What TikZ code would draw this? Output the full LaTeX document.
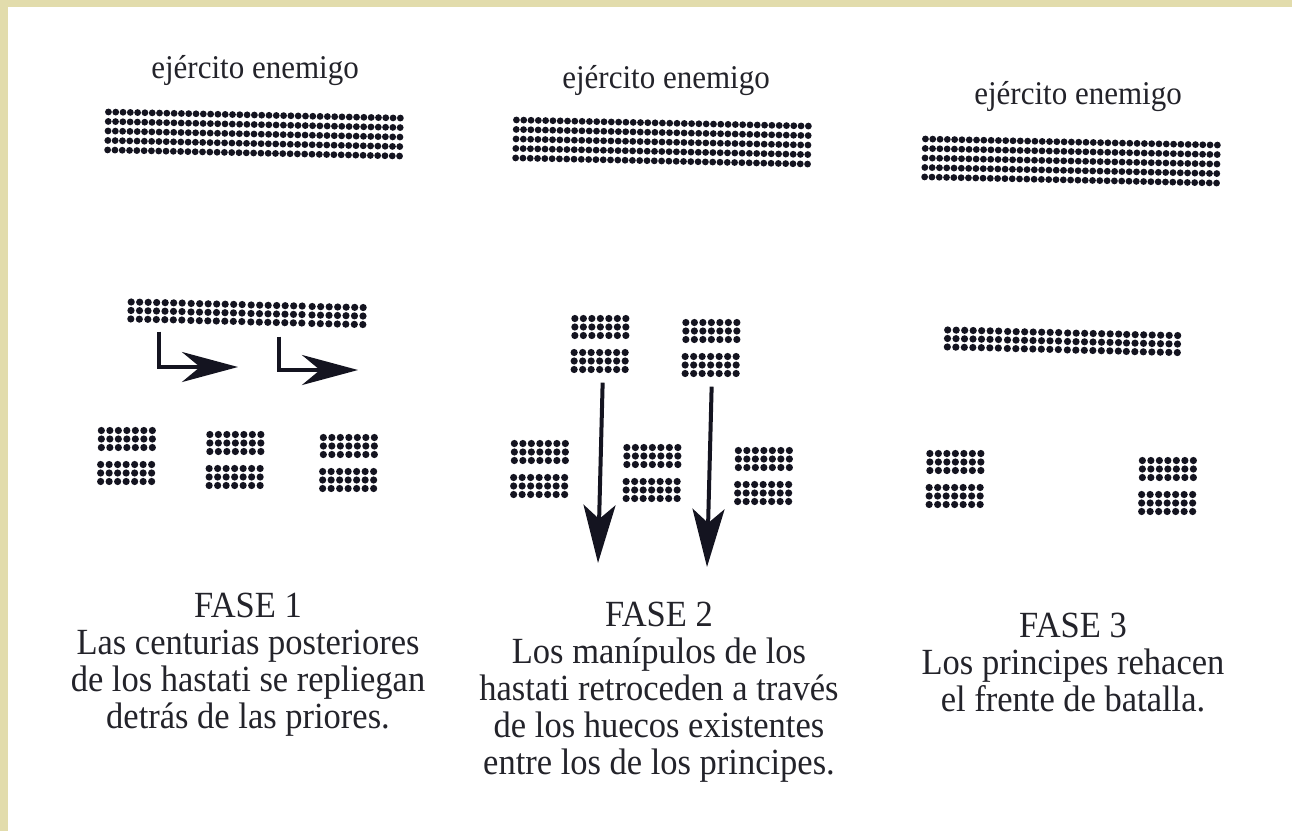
\documentclass[tikz,border=0pt]{standalone}
\usepackage{fontspec}
\setmainfont{Liberation Serif}
\usetikzlibrary{arrows.meta}
\definecolor{parch}{RGB}{226,220,172}
\definecolor{ink}{RGB}{20,20,32}
\definecolor{txt}{RGB}{35,35,42}
\tikzset{
  cent/.pic={
    \node[inner sep=0pt, minimum width=57pt, minimum height=23pt] (-box) {};
    \foreach \i in {0,...,6}{\foreach \j in {0,...,2}{\fill[ink] (-25.5+8.5*\i,-8.5+8.5*\j) circle (3.6pt);}}
  },
  manip/.pic={
    \pic (-top) at (0,-17) {cent};
    \pic (-bot) at (0,17) {cent};
  },
  enemy/.pic={
    \node[inner sep=0pt, minimum width=298pt, minimum height=44pt] (-box) {};
    \foreach \i in {0,...,40}{\foreach \j in {0,...,4}{\fill[ink] (-146+7.3*\i,-19+9.5*\j) circle (3.4pt);}}
  },
  lbl/.style={font=\fontsize{31}{36}\selectfont, text=txt, inner sep=0pt, anchor=base, yscale=1.07},
  captxt/.style={font=\fontsize{34.5}{34.5}\selectfont, text=txt, inner sep=0pt, anchor=north, align=center, yscale=1.07},
  arrL/.style={line width=4pt, draw=ink, -{Stealth[length=56pt,width=30pt,inset=18pt]}},
  arrD/.style={line width=4pt, draw=ink, -{Stealth[length=58pt,width=32pt,inset=14pt]}},
  tilt/.style={rotate=-1.2}
}
\begin{document}
\begin{tikzpicture}[x=1pt,y=-1pt]
\fill[parch] (0,0) rectangle (1292,831);
\fill[white] (8,7) rectangle (1292,831);
\useasboundingbox (0,0) rectangle (1292,831);

% ---------- Phase 1 ----------
\node[lbl] (l1) at (255,78) {ejército enemigo};
\pic[tilt] (e1) at (254,134) {enemy};
\pic[tilt] (f1a) at (156.5,311) {cent};
\pic[tilt] (f1b) at (216.5,312.5) {cent};
\pic[tilt] (f1c) at (276.5,314) {cent};
\pic[tilt] (f1d) at (337.5,315.5) {cent};
\coordinate (t1a) at (238,367);
\coordinate (t1b) at (358,370);
\draw[arrL] ([shift={(2.5,9)}]f1a-box.south) |- (t1a);
\draw[arrL] ([shift={(2.5,11)}]f1c-box.south) |- (t1b);
\pic[tilt] (b1a) at (126.5,456) {manip};
\pic[tilt] (b1b) at (235,460) {manip};
\pic[tilt] (b1c) at (348.5,463) {manip};
\node[captxt] (c1) at (248,593) {FASE 1\\Las centurias posteriores\\de los hastati se repliegan\\detrás de las priores.};

% ---------- Phase 2 ----------
\node[lbl] (l2) at (666,88) {ejército enemigo};
\pic[tilt] (e2) at (662,142) {enemy};
\pic[tilt] (f2a) at (600,344) {manip};
\pic[tilt] (f2b) at (711,348) {manip};
\pic[tilt] (b2a) at (539.5,469) {manip};
\pic[tilt] (b2b) at (652,473) {manip};
\pic[tilt] (b2c) at (763.5,476) {manip};
\coordinate (t2a) at (598,563);
\coordinate (t2b) at (707,567);
\draw[arrD] ([shift={(3,10)}]f2a-bot-box.south) -- (t2a);
\draw[arrD] ([shift={(1,10)}]f2b-bot-box.south) -- (t2b);
\node[captxt] (c2) at (659,602) {FASE 2\\Los manípulos de los\\hastati retroceden a través\\de los huecos existentes\\entre los de los principes.};

% ---------- Phase 3 ----------
\node[lbl] (l3) at (1078,104) {ejército enemigo};
\pic[tilt] (e3) at (1071,161) {enemy};
\pic[tilt] (f3a) at (973,339) {cent};
\pic[tilt] (f3b) at (1033,340.5) {cent};
\pic[tilt] (f3c) at (1093,342) {cent};
\pic[tilt] (f3d) at (1152,343.5) {cent};
\pic[tilt] (b3a) at (955,479) {manip};
\pic[tilt] (b3b) at (1167.5,486) {manip};
\node[captxt] (c3) at (1073,613) {FASE 3\\Los principes rehacen\\el frente de batalla.};
\end{tikzpicture}
\end{document}
